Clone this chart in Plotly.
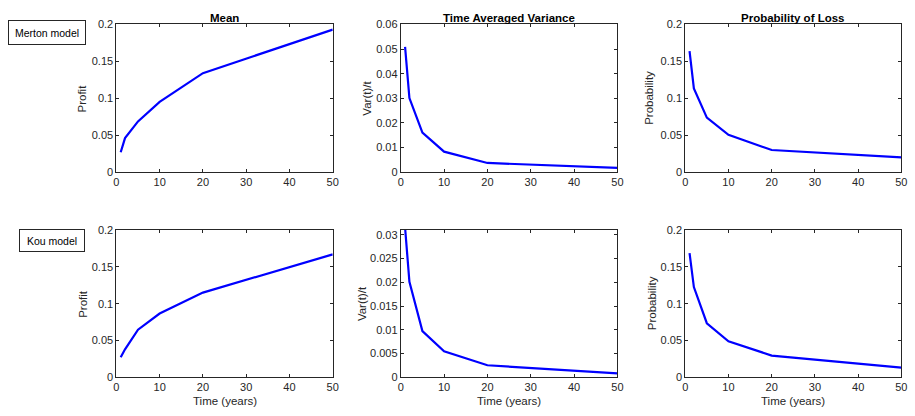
import plotly.graph_objects as go
from plotly.subplots import make_subplots

# Data
anos = [1, 2, 5, 10, 20, 50]

media_merton = [0.0268, 0.046, 0.0686, 0.095, 0.134, 0.193]
media_kou = [0.0273, 0.038, 0.0646, 0.0866, 0.115, 0.167]

var_merton = [0.0509, 0.0301, 0.016, 0.0083, 0.0037, 0.0017]
var_kou = [0.0315, 0.0201, 0.00973, 0.00548, 0.00253, 0.00082]

prob_merton = [0.164, 0.1134, 0.0738, 0.0505, 0.0299, 0.0198]
prob_kou = [0.1688, 0.1226, 0.0734, 0.0488, 0.0295, 0.0132]

titulos = ["Mean", "Time Averaged Variance", "Probability of Loss"]
ylabels = ["Profit", "Var(t)/t", "Probability"]
modelos = ["Merton model", "Kou model"]

W, H = 915, 416
cor_eixo = "#262626"
fonte = "Liberation Sans, Arial, sans-serif"

# pixel boxes of the axes (left, right) and (top, bottom)
cols_px = [(114.5, 333), (401.7, 620.5), (689, 907.3)]
rows_px = [(19, 171), (230.7, 382.3)]

fig = make_subplots(rows=2, cols=3)

series = [[media_merton, var_merton, prob_merton],
          [media_kou, var_kou, prob_kou]]
yranges = [[(0, 0.2, 0.05), (0, 0.06, 0.01), (0, 0.2, 0.05)],
           [(0, 0.2, 0.05), (0, 0.031, 0.005), (0, 0.2, 0.05)]]

for r in range(2):
    for c in range(3):
        fig.add_trace(go.Scatter(x=anos, y=series[r][c], mode="lines",
                                 line=dict(color="#0000FF", width=2.2),
                                 showlegend=False, cliponaxis=True),
                      row=r + 1, col=c + 1)
        x0, x1 = cols_px[c]
        y0, y1 = rows_px[r]
        lo, hi, dt = yranges[r][c]
        fig.update_xaxes(domain=[x0 / W, x1 / W], range=[0, 50], dtick=10, tick0=0,
                         row=r + 1, col=c + 1)
        fig.update_yaxes(domain=[1 - y1 / H, 1 - y0 / H], range=[lo, hi], dtick=dt, tick0=0,
                         row=r + 1, col=c + 1)

fig.update_xaxes(showgrid=False, zeroline=False, showline=True, linecolor=cor_eixo,
                 linewidth=1, mirror="ticks", ticks="inside", ticklen=3,
                 tickcolor=cor_eixo, tickfont=dict(size=11, color=cor_eixo, family=fonte))
fig.update_yaxes(showgrid=False, zeroline=False, showline=True, linecolor=cor_eixo,
                 linewidth=1, mirror="ticks", ticks="inside", ticklen=3,
                 tickcolor=cor_eixo, tickfont=dict(size=11, color=cor_eixo, family=fonte))

anot = []
for c in range(3):
    xc = (cols_px[c][0] + cols_px[c][1]) / 2 / W
    anot.append(dict(text="<b>" + titulos[c] + "</b>", x=xc, y=1 - 12 / H,
                     xanchor="center", yanchor="middle",
                     xref="paper", yref="paper", showarrow=False,
                     font=dict(size=11.5, color="black", family=fonte)))
    anot.append(dict(text="Time (years)", x=xc, y=1 - 406.5 / H,
                     xanchor="center", yanchor="middle",
                     xref="paper", yref="paper", showarrow=False,
                     font=dict(size=11.5, color=cor_eixo, family=fonte)))

ylab_x = [[80, 368, 653], [80, 362, 655]]
for r in range(2):
    yc = 1 - (rows_px[r][0] + rows_px[r][1]) / 2 / H
    for c in range(3):
        anot.append(dict(text=ylabels[c], x=ylab_x[r][c] / W, y=yc, textangle=-90,
                         xanchor="center", yanchor="middle",
                         xref="paper", yref="paper", showarrow=False,
                         font=dict(size=11.5, color=cor_eixo, family=fonte)))

# caixas de texto dos modelos
caixas = [(5, 83, 15, 40), (16, 82, 230, 253)]
for m, (bx0, bx1, by0, by1) in zip(modelos, caixas):
    anot.append(dict(text=m, x=(bx0 + bx1) / 2 / W, y=1 - (by0 + by1) / 2 / H,
                     xanchor="center", yanchor="middle",
                     xref="paper", yref="paper", showarrow=False,
                     width=bx1 - bx0 - 2, height=by1 - by0 - 2, borderpad=0,
                     bordercolor="#262626", borderwidth=1, bgcolor="white",
                     font=dict(size=10.5, color="black", family=fonte)))

fig.update_layout(width=W, height=H, margin=dict(l=0, r=0, t=0, b=0),
                  plot_bgcolor="white", paper_bgcolor="white",
                  annotations=anot, font=dict(family=fonte))

# tira a margem padrão do body para a figura ficar alinhada com a janela
fig.write_html("out.html", config={"displayModeBar": False},
               post_script="document.body.style.margin='0px';")
